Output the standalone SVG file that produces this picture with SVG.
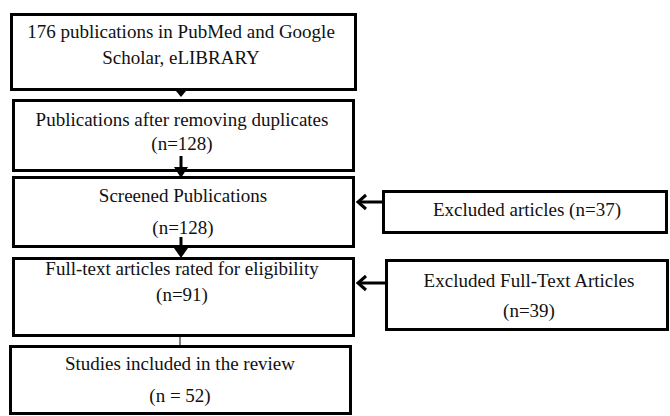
<svg xmlns="http://www.w3.org/2000/svg" width="670" height="416" viewBox="0 0 670 416">
<style>
.box{fill:#fff;stroke:#000;stroke-width:3}
text{font-family:"Liberation Serif","Times New Roman",serif;font-size:19px;fill:#111;text-anchor:middle}
.ln{stroke:#000;stroke-width:3;fill:none}
.hd{fill:#000}
</style>
<rect width="670" height="416" fill="#fff"/>
<g id="n1"><rect class="box" x="11.5" y="14.5" width="344" height="75"/><text x="181" y="38">176 publications in PubMed and Google</text><text x="181" y="64">Scholar, eLIBRARY</text></g>
<g id="n2"><rect class="box" x="13.5" y="100.5" width="340" height="70"/><text x="182" y="126">Publications after removing duplicates</text><text x="182" y="150">(n=128)</text></g>
<g id="n3"><rect class="box" x="13.5" y="177.5" width="340" height="69"/><text x="183" y="202">Screened Publications</text><text x="183" y="234">(n=128)</text></g>
<g id="n4"><rect class="box" x="13.5" y="258.5" width="340" height="77"/><text x="182" y="275">Full-text articles rated for eligibility</text><text x="182" y="301">(n=91)</text></g>
<g id="n5"><rect class="box" x="10.5" y="346.5" width="340" height="67"/><text x="180" y="370">Studies included in the review</text><text x="180" y="402">(n = 52)</text></g>
<g id="n6"><rect class="box" x="383.5" y="191.5" width="283" height="41"/><text x="527" y="216">Excluded articles (n=37)</text></g>
<g id="n7"><rect class="box" x="386.5" y="260.5" width="281" height="69"/><text x="529" y="287">Excluded Full-Text Articles</text><text x="529" y="317">(n=39)</text></g>
<g id="connectors">
<polygon class="hd" points="176,91 186,91 181,97"/>
<line class="ln" x1="181" y1="156" x2="181" y2="170"/>
<polygon class="hd" points="174,167 188,167 181,178"/>
<line class="ln" x1="181" y1="237" x2="181" y2="250"/>
<polygon class="hd" points="174,248 188,248 181,258"/>
<line x1="180" y1="337" x2="180" y2="345" stroke="#000" stroke-width="1"/>
<line class="ln" x1="383" y1="202" x2="358" y2="202"/>
<polyline class="ln" points="366,195 358,202 366,209"/>
<line class="ln" x1="386" y1="283" x2="358" y2="283"/>
<polyline class="ln" points="366,276 358,283 366,290"/>
</g>
</svg>
